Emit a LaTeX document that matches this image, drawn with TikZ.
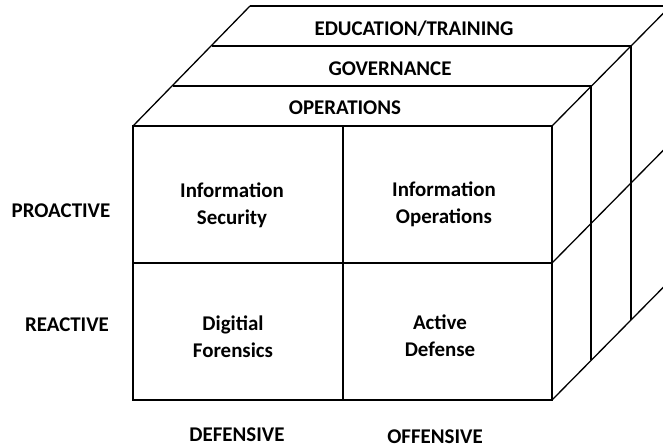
\documentclass[tikz,border=0pt]{standalone}
\usepackage{fontspec}
\setmainfont{Carlito}
\begin{document}
\begin{tikzpicture}[x=1bp,y=-1bp,
  edge/.style={line width=1.3bp,black,line join=miter},
  lbl/.style={font=\bfseries\fontsize{21}{27}\selectfont,inner sep=0pt,align=center}]
\clip (0,0) rectangle (663,448);
\fill[white] (0,0) rectangle (663,448);
% corners
\coordinate (FTL) at (133,126);
\coordinate (FTR) at (552,126);
\coordinate (FBL) at (133,400);
\coordinate (FBR) at (552,400);
\coordinate (FML) at (133,263);
\coordinate (FMR) at (552,263);
\coordinate (FTM) at (343,126);
\coordinate (FBM) at (343,400);
% front face
\draw[edge] (FTL) rectangle (FBR);
\draw[edge] (FML) -- (FMR);
\draw[edge] (FTM) -- (FBM);
% top and side faces
\draw[edge] (FTL) -- (250,6);
\draw[edge] (FTR) -- ++(158,-160);
\draw[edge] (FMR) -- ++(158,-160);
\draw[edge] (FBR) -- ++(158,-160);
\draw[edge] (172.5,86) -- (591,86) -- (591,360);
\draw[edge] (212,46) -- (631,46) -- (631,320);
\draw[edge] (250,6) -- (670,6) -- (670,280);
% texts
\node[lbl] (edu) at (414,29) {EDUCATION/TRAINING};
\node[lbl] (gov) at (390,69) {GOVERNANCE};
\node[lbl] (ops) at (345,108) {OPERATIONS};
\node[lbl] (is) at (232,205) {Information\\Security};
\node[lbl] (io) at (444,204) {Information\\Operations};
\node[lbl] (df) at (233,337) {Digitial\\Forensics};
\node[lbl] (ad) at (440,336) {Active\\Defense};
\node[lbl] (pro) at (61,211) {PROACTIVE};
\node[lbl] (rea) at (67,325) {REACTIVE};
\node[lbl] (def) at (237,435) {DEFENSIVE};
\node[lbl] (off) at (435,437) {OFFENSIVE};
\end{tikzpicture}
\end{document}
